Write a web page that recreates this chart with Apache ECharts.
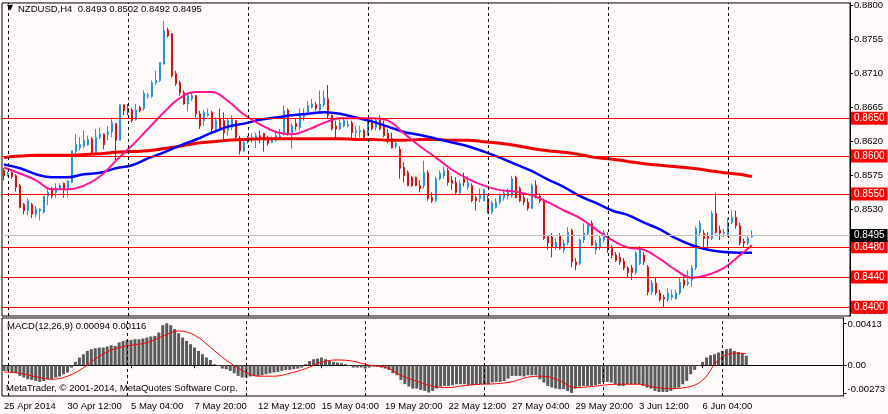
<!DOCTYPE html>
<html>
<head>
<meta charset="utf-8">
<script src="https://cdn.jsdelivr.net/npm/echarts@6/dist/echarts.min.js"></script>
<style>
    html, body { margin: 0; padding: 0; background: #fffafa; }
    #chart { width: 888px; height: 414px; }
</style>
</head>
<body>
<div id="chart"></div>
<script>
// NZDUSD H4 candles, [open, close, low, high]
const candles = [
    [.8581,.8574,.8568,.8584],[.8576,.8577,.8573,.8580],[.8578,.8573,.8570,.8580],[.8574,.8559,.8553,.8576],
    [.8561,.8532,.8531,.8563],[.8536,.8528,.8523,.8538],[.8528,.8541,.8522,.8544],[.8536,.8523,.8518,.8538],
    [.8523,.8530,.8519,.8534],[.8528,.8530,.8515,.8531],[.8526,.8547,.8524,.8547],[.8547,.8552,.8535,.8559],
    [.8555,.8547,.8544,.8559],[.8552,.8557,.8545,.8564],[.8556,.8561,.8555,.8564],[.8564,.8555,.8545,.8565],
    [.8557,.8567,.8545,.8568],[.8565,.8607,.8564,.8607],[.8606,.8615,.8598,.8629],[.8611,.8615,.8607,.8625],
    [.8613,.8621,.8610,.8634],[.8615,.8622,.8614,.8627],[.8623,.8602,.8601,.8625],[.8603,.8625,.8602,.8636],
    [.8625,.8629,.8622,.8638],[.8629,.8615,.8609,.8630],[.8629,.8632,.8621,.8640],[.8632,.8644,.8625,.8651],
    [.8643,.8621,.8594,.8644],[.8621,.8668,.8621,.8668],[.8668,.8660,.8654,.8668],[.8663,.8658,.8654,.8669],
    [.8661,.8647,.8644,.8664],[.8648,.8661,.8647,.8669],[.8664,.8660,.8658,.8667],[.8663,.8683,.8660,.8687],
    [.8679,.8681,.8676,.8684],[.8679,.8697,.8677,.8700],[.8697,.8700,.8694,.8713],[.8700,.8724,.8698,.8724],
    [.8722,.8766,.8721,.8779],[.8767,.8759,.8757,.8770],[.8762,.8706,.8704,.8763],[.8709,.8696,.8693,.8713],
    [.8697,.8684,.8680,.8700],[.8684,.8669,.8668,.8687],[.8669,.8680,.8659,.8683],[.8676,.8680,.8673,.8684],
    [.8680,.8656,.8651,.8681],[.8656,.8640,.8636,.8660],[.8647,.8658,.8640,.8661],[.8654,.8656,.8652,.8663],
    [.8658,.8636,.8631,.8660],[.8636,.8647,.8631,.8651],[.8650,.8636,.8634,.8663],[.8647,.8631,.8622,.8658],
    [.8634,.8647,.8627,.8650],[.8638,.8650,.8634,.8654],[.8647,.8625,.8622,.8648],[.8623,.8607,.8602,.8627],
    [.8607,.8618,.8605,.8621],[.8625,.8621,.8617,.8627],[.8622,.8625,.8618,.8630],[.8622,.8627,.8611,.8631],
    [.8627,.8623,.8617,.8634],[.8630,.8621,.8606,.8631],[.8625,.8617,.8614,.8627],[.8618,.8622,.8617,.8626],
    [.8621,.8627,.8619,.8634],[.8625,.8627,.8622,.8636],[.8630,.8660,.8627,.8667],[.8661,.8630,.8627,.8663],
    [.8631,.8640,.8610,.8643],[.8643,.8639,.8634,.8650],[.8638,.8654,.8634,.8663],[.8652,.8655,.8647,.8663],
    [.8658,.8667,.8656,.8673],[.8665,.8669,.8663,.8676],[.8668,.8663,.8660,.8672],[.8661,.8669,.8659,.8687],
    [.8668,.8677,.8665,.8687],[.8676,.8654,.8650,.8694],[.8654,.8636,.8634,.8655],[.8640,.8636,.8623,.8647],
    [.8636,.8644,.8634,.8650],[.8640,.8647,.8638,.8652],[.8640,.8642,.8638,.8647],[.8644,.8631,.8623,.8647],
    [.8631,.8634,.8623,.8640],[.8632,.8634,.8625,.8640],[.8634,.8625,.8622,.8636],[.8631,.8644,.8627,.8650],
    [.8644,.8636,.8634,.8650],[.8638,.8647,.8634,.8651],[.8650,.8636,.8634,.8654],[.8640,.8627,.8625,.8647],
    [.8630,.8621,.8617,.8636],[.8623,.8611,.8610,.8631],[.8613,.8617,.8610,.8621],[.8609,.8584,.8570,.8613],
    [.8585,.8574,.8565,.8592],[.8578,.8561,.8560,.8581],[.8572,.8561,.8559,.8574],[.8572,.8561,.8560,.8573],
    [.8561,.8557,.8552,.8568],[.8561,.8578,.8557,.8594],[.8578,.8544,.8541,.8581],[.8545,.8541,.8538,.8552],
    [.8541,.8570,.8539,.8573],[.8570,.8577,.8568,.8581],[.8574,.8581,.8570,.8586],[.8581,.8565,.8561,.8584],
    [.8568,.8564,.8555,.8574],[.8565,.8552,.8548,.8572],[.8551,.8564,.8548,.8568],[.8570,.8565,.8560,.8578],
    [.8559,.8565,.8555,.8574],[.8561,.8541,.8539,.8564],[.8545,.8541,.8528,.8548],[.8544,.8548,.8539,.8557],
    [.8541,.8555,.8540,.8557],[.8544,.8528,.8524,.8548],[.8526,.8538,.8523,.8541],[.8532,.8539,.8531,.8544],
    [.8539,.8548,.8536,.8551],[.8545,.8551,.8541,.8556],[.8547,.8552,.8543,.8557],[.8548,.8570,.8545,.8574],
    [.8572,.8545,.8544,.8574],[.8557,.8541,.8539,.8560],[.8545,.8539,.8535,.8549],[.8539,.8531,.8528,.8544],
    [.8531,.8561,.8530,.8564],[.8561,.8548,.8544,.8568],[.8547,.8541,.8538,.8551],[.8541,.8491,.8489,.8544],
    [.8493,.8485,.8476,.8495],[.8493,.8479,.8466,.8498],[.8479,.8486,.8476,.8491],[.8495,.8478,.8476,.8498],
    [.8476,.8485,.8472,.8489],[.8485,.8499,.8482,.8506],[.8502,.8460,.8453,.8504],[.8460,.8456,.8449,.8465],
    [.8458,.8489,.8456,.8491],[.8489,.8498,.8485,.8511],[.8498,.8508,.8494,.8512],[.8511,.8482,.8481,.8515],
    [.8476,.8485,.8470,.8489],[.8479,.8491,.8476,.8495],[.8489,.8498,.8486,.8502],[.8495,.8479,.8472,.8499],
    [.8478,.8469,.8465,.8482],[.8469,.8462,.8460,.8473],[.8466,.8460,.8456,.8472],[.8461,.8452,.8449,.8465],
    [.8452,.8446,.8439,.8454],[.8452,.8446,.8436,.8456],[.8446,.8472,.8443,.8474],[.8458,.8478,.8456,.8481],
    [.8469,.8460,.8456,.8473],[.8453,.8420,.8416,.8456],[.8420,.8432,.8416,.8436],[.8432,.8419,.8416,.8440],
    [.8419,.8410,.8407,.8423],[.8413,.8411,.8400,.8416],[.8410,.8419,.8407,.8425],[.8413,.8416,.8410,.8423],
    [.8411,.8419,.8410,.8423],[.8419,.8433,.8416,.8439],[.8436,.8429,.8425,.8443],[.8431,.8433,.8428,.8449],
    [.8436,.8452,.8427,.8456],[.8452,.8504,.8449,.8507],[.8499,.8511,.8494,.8515],[.8498,.8491,.8478,.8502],
    [.8494,.8491,.8478,.8499],[.8491,.8524,.8489,.8528],[.8524,.8499,.8497,.8552],[.8502,.8498,.8489,.8508],
    [.8498,.8499,.8493,.8504],[.8495,.8512,.8493,.8518],[.8512,.8519,.8510,.8528],[.8519,.8508,.8504,.8528],
    [.8508,.8485,.8482,.8512],[.8487,.8485,.8479,.8491],[.8485,.8491,.8482,.8494],[.8493,.8495,.8492,.8502]
];

// moving averages, read every 4th bar
const maBars = [0,4,8,12,16,20,24,28,32,36,40,44,48,52,56,60,64,68,72,76,80,84,88,92,
    96,100,104,108,112,116,120,124,128,132,136,140,144,148,152,156,160,164,168,172,176,180,184,187];
const maSlow = [.8598,.8600,.8601,.8601,.8601,.8602,.8603,.8605,.8606,.8607,.8610,.8613,.8617,.8619,.8621,.8622,
    .8623,.8623,.8623,.8623,.8623,.8623,.8622,.8622,.8621,.8621,.8622,.8622,.8621,.8621,.8619,.8617,
    .8614,.8610,.8607,.8605,.8602,.8598,.8596,.8593,.8590,.8588,.8586,.8584,.8581,.8578,.8576,.8573];
const maMid = [.8589,.8584,.8576,.8572,.8572,.8576,.8578,.8584,.8588,.8597,.8605,.8614,.8622,.8631,.8639,.8643,
    .8648,.8651,.8654,.8656,.8658,.8656,.8651,.8646,.8639,.8632,.8628,.8623,.8618,.8613,.8606,.8598,
    .8589,.8580,.8569,.8559,.8547,.8538,.8528,.8522,.8512,.8503,.8491,.8482,.8476,.8473,.8472,.8472];
const maFast = [.8585,.8577,.8568,.8556,.8556,.8561,.8573,.8594,.8614,.8636,.8658,.8677,.8685,.8685,.8673,.8655,
    .8642,.8632,.8629,.8635,.8644,.8650,.8650,.8650,.8647,.8630,.8613,.8598,.8582,.8570,.8561,.8555,
    .8553,.8548,.8539,.8528,.8518,.8503,.8489,.8479,.8476,.8464,.8449,.8439,.8443,.8452,.8469,.8482];

// MACD(12,26,9) histogram per bar, signal line every 4th bar
const macdHist = [
    -0.00056,-0.00056,-0.00066,-0.00079,-0.00105,-0.00121,-0.00138,-0.00145,-0.00155,-0.00164,
    -0.00155,-0.00138,-0.00138,-0.00121,-0.00111,-0.00089,-0.00072,-0.00023,0.00033,0.00076,
    0.00108,0.00141,0.00158,0.00167,0.00174,0.00174,0.00184,0.00197,0.00190,0.00224,
    0.00239,0.00249,0.00249,0.00256,0.00256,0.00263,0.00273,0.00283,0.00289,0.00322,
    0.00394,0.00413,0.00394,0.00355,0.00315,0.00273,0.00239,0.00207,0.00174,0.00141,
    0.00108,0.00076,0.00052,0.00010,-0.00007,-0.00033,-0.00039,-0.00056,-0.00079,-0.00105,
    -0.00121,-0.00121,-0.00111,-0.00105,-0.00105,-0.00099,-0.00089,-0.00079,-0.00072,-0.00066,
    -0.00056,-0.00046,-0.00046,-0.00039,-0.00033,-0.00023,0.00010,0.00042,0.00059,0.00066,
    0.00076,0.00059,0.00042,0.00033,0.00027,0.00020,0.00010,-0.00007,-0.00023,-0.00023,
    -0.00023,-0.00033,-0.00023,-0.00013,-0.00017,-0.00023,-0.00033,-0.00046,-0.00079,-0.00099,
    -0.00145,-0.00187,-0.00210,-0.00230,-0.00230,-0.00243,-0.00253,-0.00269,-0.00253,-0.00230,
    -0.00210,-0.00204,-0.00204,-0.00197,-0.00187,-0.00187,-0.00187,-0.00197,-0.00197,-0.00187,
    -0.00187,-0.00187,-0.00187,-0.00170,-0.00164,-0.00164,-0.00155,-0.00131,-0.00105,-0.00105,
    -0.00105,-0.00111,-0.00099,-0.00099,-0.00099,-0.00138,-0.00170,-0.00204,-0.00220,-0.00230,
    -0.00236,-0.00236,-0.00253,-0.00273,-0.00230,-0.00210,-0.00204,-0.00204,-0.00204,-0.00197,
    -0.00187,-0.00164,-0.00164,-0.00170,-0.00187,-0.00204,-0.00204,-0.00187,-0.00187,-0.00187,
    -0.00187,-0.00204,-0.00220,-0.00230,-0.00253,-0.00263,-0.00263,-0.00263,-0.00253,-0.00236,
    -0.00220,-0.00187,-0.00155,-0.00089,-0.00046,-0.00007,0.00033,0.00076,0.00098,0.00108,
    0.00125,0.00141,0.00158,0.00164,0.00141,0.00131,0.00118,0.00094
];
const macdSignal = [-0.00066,-0.00079,-0.00113,-0.00138,-0.00108,-0.00025,0.00089,0.00163,0.00197,0.00222,
    0.00286,0.00338,0.00296,0.00177,0.00049,-0.00049,-0.00108,-0.00108,-0.00079,-0.00033,0.00030,0.00052,
    0.00039,0.00000,-0.00018,-0.00099,-0.00158,-0.00207,-0.00220,-0.00200,-0.00187,-0.00182,-0.00163,
    -0.00118,-0.00108,-0.00153,-0.00220,-0.00210,-0.00192,-0.00187,-0.00187,-0.00217,-0.00230,-0.00217,
    -0.00148,0.00049,0.00118,0.00116];

const tickBars = [0, 16, 32, 48, 64, 80, 96, 112, 128, 144, 160, 176];
const tickLabels = ['25 Apr 2014', '30 Apr 12:00', '5 May 04:00', '7 May 20:00', '12 May 12:00',
    '15 May 04:00', '19 May 20:00', '22 May 12:00', '27 May 04:00', '29 May 20:00', '3 Jun 12:00', '6 Jun 04:00'];
const weekBars = [1, 31, 61, 91, 121, 151, 181];
const priceTicks = [0.8395, 0.8440, 0.8485, 0.8530, 0.8575, 0.8620, 0.8665, 0.8710, 0.8755, 0.8800];
const levels = [0.8650, 0.8600, 0.8550, 0.8480, 0.8440, 0.8400];
const lastPrice = 0.8495;
const macdTicks = [-0.00273, 0, 0.00413];

const SLOTS = 212;
const FONT = '"Liberation Sans", Arial, sans-serif';
const categories = Array.from({ length: SLOTS }, (_, i) => String(i));

function pairs(values) {
    return maBars.map((bar, k) => [bar, values[k]]);
}

function maSeries(values, color, width) {
    return {
        type: 'line',
        data: pairs(values),
        xAxisIndex: 0,
        yAxisIndex: 0,
        symbol: 'none',
        smooth: 0.4,
        silent: true,
        lineStyle: { color, width },
        z: 4,
    };
}

function weekLines() {
    return weekBars.map((bar) => ({
        xAxis: String(bar),
        label: { show: false },
        lineStyle: { color: '#000', type: [3, 3], width: 1 },
    }));
}

// one carrier series per horizontal level, the box label sits on the price scale
function levelSeries(value, lineColor, boxColor) {
    return {
        type: 'line',
        xAxisIndex: 0,
        yAxisIndex: 0,
        data: [],
        silent: true,
        z: 5,
        markLine: {
            silent: true,
            symbol: ['none', 'none'],
            animation: false,
            precision: 4,
            data: [{
                yAxis: value,
                label: {
                    show: true,
                    position: 'end',
                    distance: 1,
                    formatter: value.toFixed(4),
                    color: '#fff',
                    backgroundColor: boxColor,
                    padding: [2, 3, 1, 3],
                    fontFamily: FONT,
                    fontSize: 10,
                },
                lineStyle: { color: lineColor, type: 'solid', width: 1 },
            }],
        },
    };
}

const chart = echarts.init(document.getElementById('chart'), null, { renderer: 'canvas' });

chart.setOption({
    animation: false,
    backgroundColor: '#fffafa',
    textStyle: { fontFamily: FONT },
    grid: [
        { left: 2, right: 38, top: 2, height: 314, show: true, borderColor: '#000', borderWidth: 1, backgroundColor: 'transparent' },
        { left: 2, right: 38, top: 318, height: 78, show: true, borderColor: '#000', borderWidth: 1, backgroundColor: 'transparent' },
    ],
    xAxis: [
        {
            type: 'category', gridIndex: 0, data: categories, boundaryGap: true,
            axisLine: { show: false }, axisTick: { show: false }, axisLabel: { show: false },
            splitLine: { show: false },
        },
        {
            type: 'category', gridIndex: 1, data: categories, boundaryGap: true,
            axisLine: { show: true, lineStyle: { color: '#000' } },
            axisTick: {
                show: true, alignWithLabel: true, length: 3, lineStyle: { color: '#000' },
                interval: (idx) => tickBars.includes(idx),
            },
            axisLabel: {
                show: true, align: 'left', margin: 5, color: '#000', fontSize: 9.5, fontFamily: FONT,
                interval: (idx) => tickBars.includes(idx),
                formatter: (val) => tickLabels[tickBars.indexOf(Number(val))] || '',
            },
            splitLine: { show: false },
        },
    ],
    yAxis: [
        {
            type: 'value', gridIndex: 0, position: 'right', min: 0.83884, max: 0.88027,
            axisLine: { show: true, lineStyle: { color: '#000' } },
            axisTick: { show: true, length: 3, lineStyle: { color: '#000' }, customValues: priceTicks },
            axisLabel: {
                show: true, margin: 4, color: '#000', fontSize: 9.5, fontFamily: FONT,
                customValues: priceTicks,
                formatter: (v) => v.toFixed(4),
            },
            splitLine: { show: false },
        },
        {
            type: 'value', gridIndex: 1, position: 'right', min: -0.00303, max: 0.00465,
            axisLine: { show: true, lineStyle: { color: '#000' } },
            axisTick: { show: true, length: 3, lineStyle: { color: '#000' }, customValues: macdTicks },
            axisLabel: {
                show: true, margin: 4, color: '#000', fontSize: 9.5, fontFamily: FONT,
                customValues: macdTicks,
                formatter: (v) => (v === 0 ? '0.00' : v < 0 ? '{lo|' + v.toFixed(5) + '}' : '{hi|' + v.toFixed(5) + '}'),
                rich: {
                    lo: { fontSize: 9.5, fontFamily: FONT, color: '#000', padding: [0, 0, 7, 0] },
                    hi: { fontSize: 9.5, fontFamily: FONT, color: '#000', padding: [3, 0, 0, 0] },
                },
            },
            splitLine: { show: false },
        },
    ],
    series: [
        {
            type: 'candlestick',
            xAxisIndex: 0,
            yAxisIndex: 0,
            data: candles,
            barWidth: 2,
            silent: true,
            itemStyle: {
                color: '#1e90ff', color0: '#ff0000',
                borderColor: '#1e90ff', borderColor0: '#ff0000', borderWidth: 1,
            },
            markLine: {
                silent: true, symbol: ['none', 'none'], animation: false,
                data: weekLines(),
            },
            z: 3,
        },
        maSeries(maSlow, '#f00000', 3),
        maSeries(maMid, '#0000ff', 2.5),
        maSeries(maFast, '#ff1493', 2),
        ...levels.map((v) => levelSeries(v, '#ff0000', '#ff0000')),
        levelSeries(lastPrice, '#c0c0c0', '#000'),
        {
            type: 'bar',
            xAxisIndex: 1,
            yAxisIndex: 1,
            data: macdHist,
            barWidth: 3,
            silent: true,
            itemStyle: { color: '#5a5a5a' },
            markLine: {
                silent: true, symbol: ['none', 'none'], animation: false,
                data: weekLines(),
            },
        },
        {
            type: 'line',
            xAxisIndex: 1,
            yAxisIndex: 1,
            data: pairs(macdSignal),
            symbol: 'none',
            smooth: 0.4,
            silent: true,
            lineStyle: { color: '#ff0000', width: 1 },
            z: 4,
        },
    ],
    graphic: [
        { type: 'text', left: 7, top: 4, style: { text: '▼', font: '8px "DejaVu Sans"', fill: '#000' } },
        {
            type: 'text', left: 18, top: 4,
            style: { text: 'NZDUSD,H4  0.8493 0.8502 0.8492 0.8495', font: '9.5px ' + FONT, fill: '#000' },
        },
        {
            type: 'text', left: 7, top: 321,
            style: { text: 'MACD(12,26,9) 0.00094 0.00116', font: '9.5px ' + FONT, fill: '#000' },
        },
        {
            type: 'text', left: 6, top: 383,
            style: { text: 'MetaTrader, © 2001-2014, MetaQuotes Software Corp.', font: '9.5px ' + FONT, fill: '#000' },
        },
    ],
});
</script>
</body>
</html>
